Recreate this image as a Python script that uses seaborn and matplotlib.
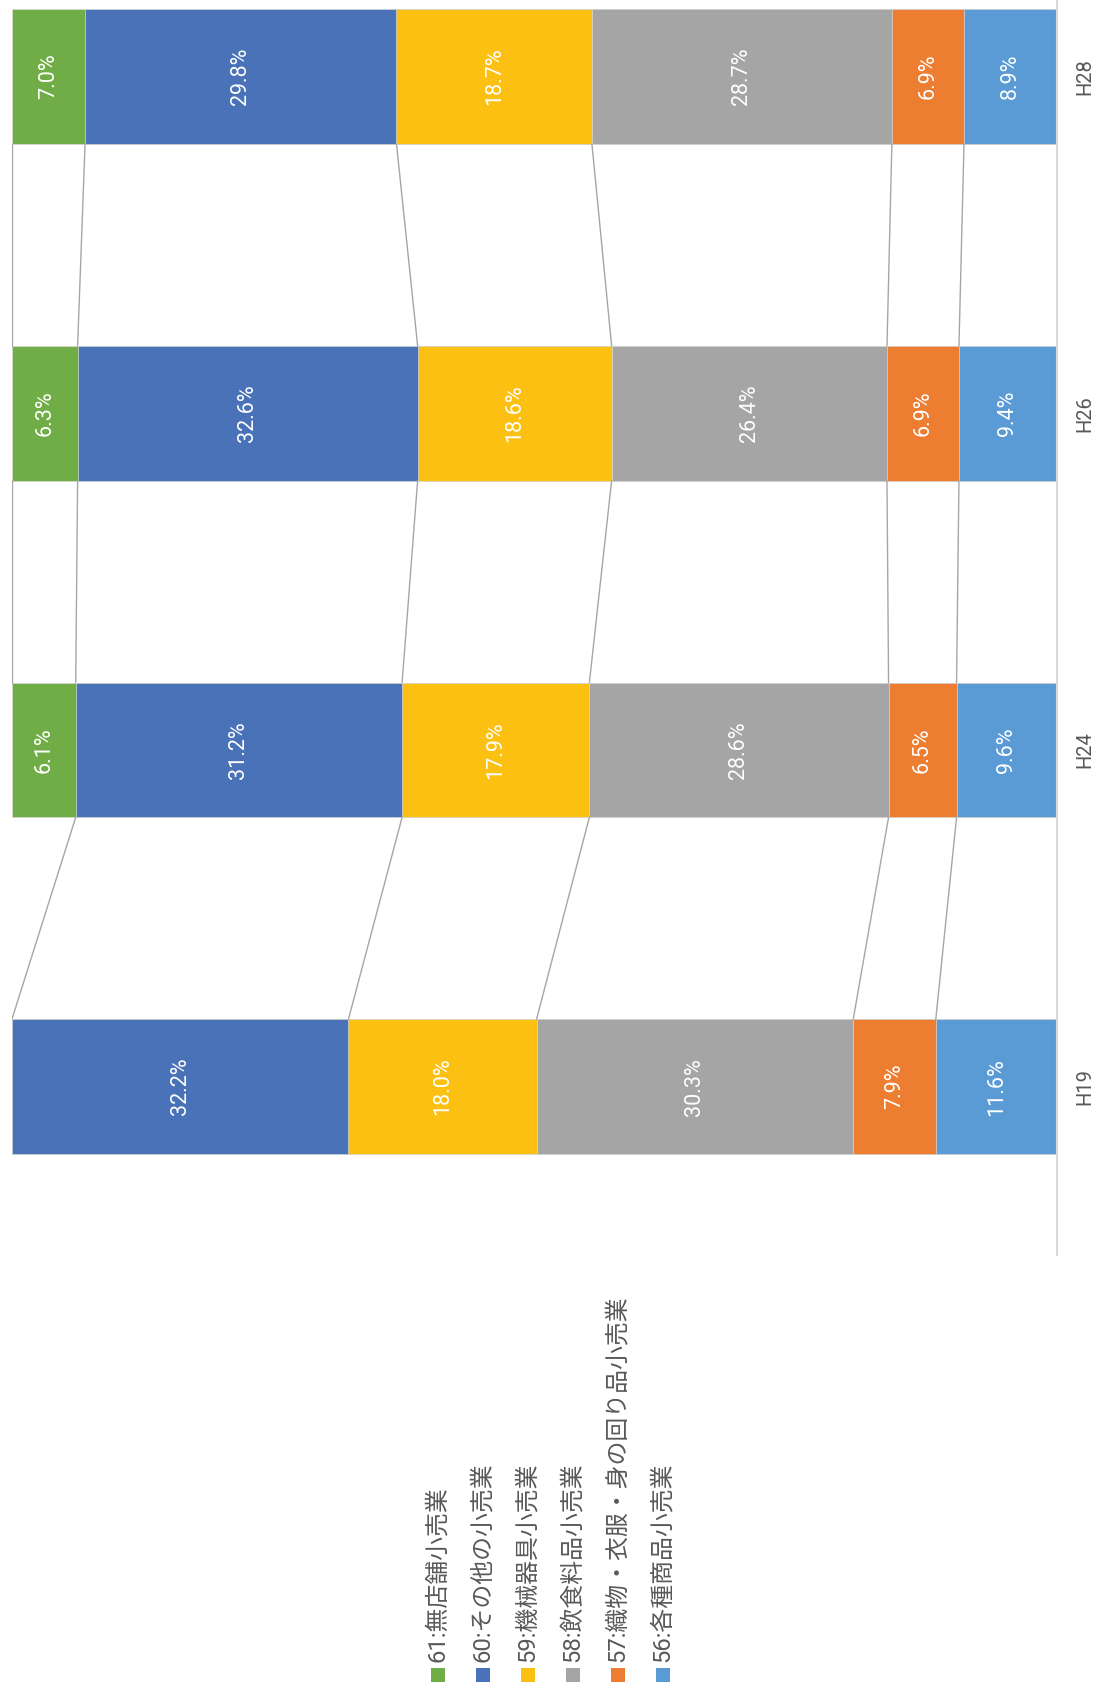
import numpy as np
import pandas as pd
import matplotlib
matplotlib.use("Agg")
import matplotlib.pyplot as plt
from matplotlib.patches import Rectangle
import seaborn as sns

# Survey years (category axis)
years = ["H19", "H24", "H26", "H28"]

# Share of each retail industry (%) per year; NaN where not surveyed
s56 = [11.6, 9.6, 9.4, 8.9]
s57 = [7.9, 6.5, 6.9, 6.9]
s58 = [30.3, 28.6, 26.4, 28.7]
s59 = [18.0, 17.9, 18.6, 18.7]
s60 = [32.2, 31.2, 32.6, 29.8]
s61 = [np.nan, 6.1, 6.3, 7.0]

series_names = [
    "56:各種商品小売業",
    "57:織物・衣服・身の回り品小売業",
    "58:飲食料品小売業",
    "59:機械器具小売業",
    "60:その他の小売業",
    "61:無店舗小売業",
]
series_colors = ["#5B9BD5", "#ED7D31", "#A5A5A5", "#FCC012", "#4A72B8", "#70AD47"]

sns.set_theme(style="white")
plt.rcParams["font.family"] = ["Roboto", "Noto Sans CJK JP", "DejaVu Sans"]

values = np.array([s56, s57, s58, s59, s60, s61], dtype=float)   # (series, year)
filled = np.nan_to_num(values, nan=0.0)
shares = filled / filled.sum(axis=0) * 100.0                   # 100% stacked
cum = np.cumsum(shares, axis=0)

order = ["H28", "H26", "H24", "H19"]          # top to bottom
pos = {y: i for i, y in enumerate(order)}
bar_h = 0.4

fig = plt.figure(figsize=(10.97, 16.84), dpi=100)
ax = fig.add_axes([11.9 / 1097, 1 - 1255 / 1684, (1057 - 11.9) / 1097, 1255 / 1684])

# stacked bars: draw cumulative totals from the outermost layer inwards
for k in range(len(series_names) - 1, -1, -1):
    df = pd.DataFrame({"year": years, "cum": cum[k]})
    sns.barplot(data=df, x="cum", y="year", order=order, orient="h",
                color=series_colors[k], saturation=1, width=bar_h,
                errorbar=None, edgecolor="#D9D9D9", linewidth=0.5, ax=ax)

# data labels
for k in range(len(series_names)):
    for j, yr in enumerate(years):
        v = values[k, j]
        if np.isnan(v):
            continue
        ax.text(cum[k, j] - shares[k, j] / 2, pos[yr], f"{v:.1f}%",
                rotation=90, ha="center", va="center", color="white",
                fontsize=15.5, zorder=5)

# series lines between neighbouring bars
for a, b in zip(years[:-1], years[1:]):
    ja, jb = years.index(a), years.index(b)
    for k in range(len(series_names)):
        if np.isnan(values[k, ja]) or np.isnan(values[k, jb]):
            continue
        ax.plot([cum[k, ja], cum[k, jb]],
                [pos[a] - bar_h / 2, pos[b] + bar_h / 2],
                color="#A6A6A6", lw=1.0, zorder=1)

ax.set_xlim(100, 0)
ax.set_ylim(3.5, 3.5 - 1255 / 336.7)
ax.set_xlabel("")
ax.set_ylabel("")
ax.set_xticks([])
ax.yaxis.tick_right()
ax.tick_params(axis="y", length=0, pad=13, labelsize=14.5,
               labelcolor="#595959", labelrotation=90)
for lab in ax.get_yticklabels():
    lab.set_va("center")
for side in ["left", "top", "bottom"]:
    ax.spines[side].set_visible(False)
ax.spines["right"].set_visible(True)
ax.spines["right"].set_color("#D9D9D9")
ax.spines["right"].set_linewidth(1.5)

# legend, one rotated entry per column
W, H = 1097, 1684
for i, k in enumerate(range(len(series_names) - 1, -1, -1)):
    cx = 437.7 + 45 * i
    fig.patches.append(Rectangle(((cx - 7) / W, 1 - 1682 / H), 14 / W, 14 / H,
                                 transform=fig.transFigure,
                                 facecolor=series_colors[k], edgecolor="none"))
    fig.text(cx / W, 1 - 1662 / H, series_names[k], rotation=90,
             ha="center", va="bottom", fontsize=17.2, color="#595959")

fig.savefig("out.png", dpi=100)
